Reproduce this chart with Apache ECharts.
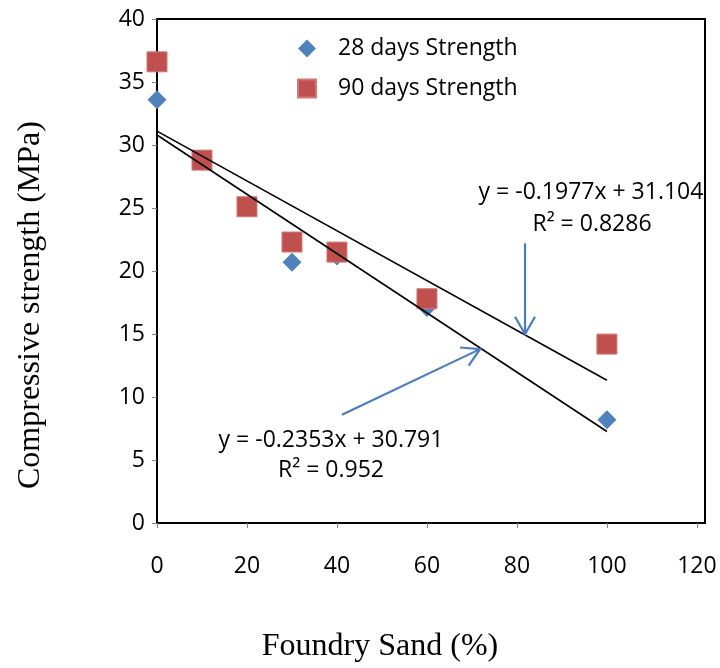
<!DOCTYPE html>
<html>
<head>
<meta charset="utf-8">
<script src="https://cdn.jsdelivr.net/npm/echarts@6/dist/echarts.min.js"></script>
<style>html,body{margin:0;padding:0;background:#fff}#c{width:720px;height:668px}</style>
</head>
<body>
<div id="c"></div>
<script>
// ---- data ----
var sandPct = [0, 10, 20, 30, 40, 60, 100];
var strength28 = [33.6, 28.7, 25.0, 20.7, 21.2, 17.1, 8.2];
var strength90 = [36.6, 28.8, 25.1, 22.3, 21.5, 17.8, 14.2];
var seriesNames = ['28 days Strength', '90 days Strength'];
// trendline coefficients [slope, intercept]
var trend28 = [-0.2353, 30.791];
var trend90 = [-0.1977, 31.104];
var trendX = [0, 100];
var eq28 = ['y = -0.2353x + 30.791', 'R\u00b2 = 0.952'];
var eq90 = ['y = -0.1977x + 31.104', 'R\u00b2 = 0.8286'];
// annotation arrows [x1, y1, x2, y2] in data units
var arrows = [[81.8, 22.2, 81.8, 15.0], [41.1, 8.6, 71.8, 13.8]];
var xTicks = [0, 20, 40, 60, 80, 100, 120];

var pts28 = sandPct.map(function (x, i) { return [x, strength28[i]]; });
var pts90 = sandPct.map(function (x, i) { return [x, strength90[i]]; });
function trendData(c) { return trendX.map(function (x) { return [x, c[0] * x + c[1]]; }); }

var font = '"Open Sans", sans-serif';
var fs = 23;
var chart = echarts.init(document.getElementById('c'));
chart.setOption({
  animation: false,
  backgroundColor: '#fff',
  grid: { left: 157, right: 15, top: 19, bottom: 145, show: true, borderColor: '#000', borderWidth: 2, containLabel: false },
  legend: {
    orient: 'vertical', left: 292, top: 32, itemGap: 17, itemWidth: 18, itemHeight: 18,
    data: [{ name: seriesNames[0], icon: 'diamond' }, { name: seriesNames[1], icon: 'rect' }],
    textStyle: { fontFamily: font, fontSize: fs, color: '#000', padding: [0, 0, 0, 17] }
  },
  xAxis: {
    type: 'value', min: 0, max: 121.8, interval: 20,
    name: 'Foundry Sand (%)', nameLocation: 'middle', nameGap: 108,
    nameTextStyle: { fontFamily: '"Liberation Serif", serif', fontSize: 32, color: '#000', padding: [0, 102, 0, 0] },
    axisLine: { onZero: false, lineStyle: { color: '#000', width: 2 } },
    axisTick: { show: true, inside: false, length: 5, customValues: xTicks, lineStyle: { color: '#808080', width: 1 } },
    axisLabel: { customValues: xTicks, margin: 32, fontFamily: font, fontSize: fs, color: '#000' },
    splitLine: { show: false }
  },
  yAxis: {
    type: 'value', min: 0, max: 40, interval: 5,
    name: 'Compressive strength (MPa)', nameLocation: 'middle', nameGap: 110,
    nameTextStyle: { fontFamily: '"Liberation Serif", serif', fontSize: 32, color: '#000', padding: [0, 68, 0, 0] },
    axisLine: { onZero: false, lineStyle: { color: '#000', width: 2 } },
    axisTick: { show: true, inside: false, length: 5, lineStyle: { color: '#808080', width: 1 } },
    axisLabel: { margin: 12, fontFamily: font, fontSize: fs, color: '#000' },
    splitLine: { show: false }
  },
  series: [
    { name: seriesNames[0], type: 'scatter', symbol: 'diamond', symbolSize: 19, data: pts28, z: 2,
      itemStyle: { color: '#4f81bd', opacity: 1 } },
    { name: seriesNames[1], type: 'scatter', symbol: 'rect', symbolSize: 20, data: pts90, z: 3,
      itemStyle: { color: '#c0504d', borderColor: '#d07a78', borderWidth: 1, opacity: 1 } },
    { name: 'trend28', type: 'line', data: trendData(trend28), symbol: 'none', z: 4,
      lineStyle: { color: '#000', width: 1.6 } },
    { name: 'trend90', type: 'line', data: trendData(trend90), symbol: 'none', z: 4,
      lineStyle: { color: '#000', width: 1.6 } },
    { name: 'arrows', type: 'custom', z: 5, data: arrows,
      renderItem: function (params, api) {
        var p1 = api.coord([api.value(0), api.value(1)]);
        var p2 = api.coord([api.value(2), api.value(3)]);
        var ang = Math.atan2(p2[1] - p1[1], p2[0] - p1[0]);
        var L = 20, w = Math.PI / 6;
        var a = [p2[0] - L * Math.cos(ang - w), p2[1] - L * Math.sin(ang - w)];
        var b = [p2[0] - L * Math.cos(ang + w), p2[1] - L * Math.sin(ang + w)];
        var st = { stroke: '#4a7ebb', lineWidth: 2.2, fill: null };
        return { type: 'group', children: [
          { type: 'line', shape: { x1: p1[0], y1: p1[1], x2: p2[0], y2: p2[1] }, style: st },
          { type: 'polyline', shape: { points: [a, p2, b] }, style: st }
        ] };
      }
    }
  ],
  graphic: [
    { type: 'text', x: 591, y: 192, style: { text: eq90[0], font: fs + 'px ' + font, fill: '#000', align: 'center', verticalAlign: 'middle' } },
    { type: 'text', x: 592, y: 224, style: { text: eq90[1], font: fs + 'px ' + font, fill: '#000', align: 'center', verticalAlign: 'middle' } },
    { type: 'text', x: 331, y: 440, style: { text: eq28[0], font: fs + 'px ' + font, fill: '#000', align: 'center', verticalAlign: 'middle' } },
    { type: 'text', x: 331, y: 470, style: { text: eq28[1], font: fs + 'px ' + font, fill: '#000', align: 'center', verticalAlign: 'middle' } }
  ]
});
</script>
</body>
</html>
